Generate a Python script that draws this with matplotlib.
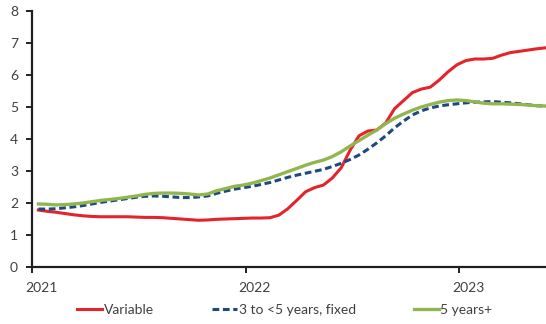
import matplotlib.pyplot as plt
from matplotlib.transforms import ScaledTranslation

# half-monthly readings, starting mid-Jan 2021
start_year = 2021.03
step = 1 / 24

variable = [1.78, 1.74, 1.71, 1.67, 1.63, 1.60, 1.58, 1.57, 1.57, 1.57,
            1.57, 1.56, 1.55, 1.55, 1.54, 1.52, 1.50, 1.48, 1.46, 1.47,
            1.49, 1.50, 1.51, 1.52, 1.53, 1.53, 1.54, 1.62, 1.82, 2.08,
            2.35, 2.48, 2.56, 2.78, 3.10, 3.65, 4.10, 4.25, 4.28, 4.50,
            4.95, 5.20, 5.45, 5.56, 5.62, 5.84, 6.10, 6.32, 6.45, 6.50,
            6.50, 6.52, 6.62, 6.70, 6.74, 6.78, 6.82, 6.85]

fixed_3to5 = [1.81, 1.81, 1.82, 1.85, 1.88, 1.92, 1.97, 2.02, 2.06, 2.10,
              2.14, 2.18, 2.21, 2.22, 2.21, 2.19, 2.17, 2.17, 2.19, 2.22,
              2.30, 2.37, 2.43, 2.48, 2.52, 2.58, 2.64, 2.72, 2.80, 2.87,
              2.93, 2.99, 3.05, 3.14, 3.24, 3.36, 3.50, 3.68, 3.88, 4.10,
              4.35, 4.56, 4.75, 4.88, 4.97, 5.03, 5.07, 5.10, 5.13, 5.15,
              5.16, 5.17, 5.15, 5.13, 5.10, 5.07, 5.04, 5.03]

years5plus = [1.97, 1.96, 1.94, 1.95, 1.97, 2.00, 2.04, 2.08, 2.11, 2.14,
              2.18, 2.22, 2.27, 2.30, 2.31, 2.31, 2.30, 2.28, 2.25, 2.28,
              2.38, 2.45, 2.52, 2.56, 2.62, 2.70, 2.78, 2.88, 2.98, 3.08,
              3.18, 3.27, 3.34, 3.45, 3.60, 3.78, 3.95, 4.12, 4.28, 4.48,
              4.65, 4.78, 4.90, 5.00, 5.08, 5.15, 5.20, 5.22, 5.20, 5.16,
              5.12, 5.10, 5.10, 5.09, 5.08, 5.06, 5.04, 5.03]

x = [start_year + i * step for i in range(len(variable))]

xticks = [2021, 2022, 2023]
xtick_labels = ['2021', '2022', '2023']
yticks = list(range(0, 9))

plt.rcParams['font.family'] = ['Lato', 'DejaVu Sans']

fig = plt.figure(figsize=(5.46, 3.24), dpi=100)
ax = fig.add_axes([32 / 546, 1 - 267 / 324, 1 - 32 / 546, (267 - 11) / 324])

ax.plot(x, variable, color='#E4232A', lw=2.2, label='Variable')
ax.plot(x, fixed_3to5, color='#1C4A80', lw=2.2, dashes=(2.2, 1.2),
        label='3 to <5 years, fixed')
ax.plot(x, years5plus, color='#92B64E', lw=2.4, label='5 years+')

ax.set_xlim(2021, x[-1])
ax.set_ylim(0, 8)
ax.set_xticks(xticks)
ax.set_xticklabels(xtick_labels)
ax.set_yticks(yticks)

for side in ['top', 'right']:
    ax.spines[side].set_visible(False)
for side in ['left', 'bottom']:
    ax.spines[side].set_linewidth(1.6)
    ax.spines[side].set_color('#202020')

ax.tick_params(axis='both', direction='out', length=4, width=1.4,
               color='#202020', labelsize=10, labelcolor='#404040')
ax.tick_params(axis='y', pad=6)
ax.tick_params(axis='x', pad=7)

offset = ScaledTranslation(9 / 100, 0, fig.dpi_scale_trans)
for lbl in ax.get_xticklabels():
    lbl.set_transform(lbl.get_transform() + offset)

leg = fig.legend(loc='center', bbox_to_anchor=(0.522, 0.043), ncol=3,
                 frameon=False, fontsize=10, handlelength=1.8,
                 handletextpad=0.1, columnspacing=4.2)
for t in leg.get_texts():
    t.set_color('#404040')

fig.savefig('out.png', dpi=100)
